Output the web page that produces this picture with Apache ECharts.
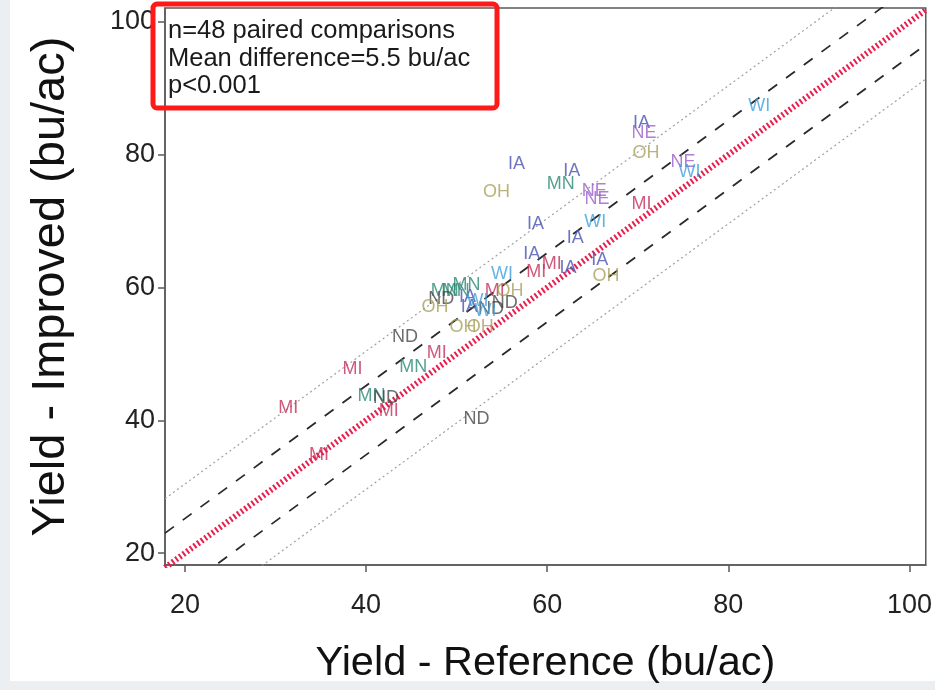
<!DOCTYPE html>
<html>
<head>
<meta charset="utf-8">
<script src="https://cdn.jsdelivr.net/npm/echarts@6/dist/echarts.min.js"></script>
<style>
  html, body { margin: 0; padding: 0; background: #eceff1; }
  #chart { width: 935px; height: 690px; }
</style>
</head>
<body>
<div id="chart"></div>
<script>
// Paired on-farm comparisons: state, reference yield and improved yield (bu/ac)
const states = [
  'WI','IA','NE','OH','NE','WI','MI',
  'IA','OH','MN','IA','NE','NE','IA','WI','IA','IA','MI','MI','IA','IA','OH',
  'WI','MN','MN','IA','MI','OH','ND','OH','IA','ND','WI','ND','OH','OH',
  'ND','MI','MI','MN','MN','ND','MI','MI','MI','ND','WI','MN'
];
const referenceYield = [
  83.4, 70.4, 70.7, 70.9, 75.0, 75.7, 70.4,
  56.6, 54.4, 61.5, 62.7, 65.2, 65.5, 58.7, 65.3, 63.1, 58.3, 58.8, 60.5, 62.3, 65.8, 66.5,
  55.0, 49.9, 51.1, 51.2, 54.2, 55.9, 48.3, 47.6, 51.4, 55.3, 53.2, 53.8, 50.7, 52.6,
  44.3, 47.8, 38.5, 45.2, 40.6, 42.2, 42.5, 31.4, 34.8, 52.2, 52.3, 48.7
];
const improvedYield = [
  87.4, 84.7, 83.3, 80.2, 78.9, 77.4, 72.5,
  78.6, 74.4, 75.6, 77.6, 74.6, 73.4, 69.6, 69.8, 67.4, 65.0, 62.4, 63.6, 62.9, 64.2, 61.8,
  62.1, 59.4, 60.3, 58.6, 59.4, 59.5, 58.2, 57.1, 57.1, 57.6, 56.4, 56.7, 54.1, 54.1,
  52.5, 50.1, 47.7, 48.0, 43.6, 43.3, 41.4, 41.8, 34.7, 40.2, 57.9, 59.5
];

const stateOrder = ['IA', 'MI', 'MN', 'ND', 'NE', 'OH', 'WI'];
const stateColors = {
  IA: '#4a52b0', MI: '#c22f5a', MN: '#2c8874', ND: '#474747',
  NE: '#9a5fc8', OH: '#a9a05c', WI: '#3ea0dc'
};

// Axis extent and ticks
const xRange = [17.8, 101.8];
const yRange = [18.2, 102.1];
const xTicks = [20, 40, 60, 80, 100];
const yTicks = [20, 40, 60, 80, 100];

// Reference lines: 1:1 line with inner (dashed) and outer (dotted) bands
const innerBand = 5.2;
const outerBand = 10.4;

const annotationLines = [
  'n=48 paired comparisons',
  'Mean difference=5.5 bu/ac',
  'p<0.001'
];

const FONT = 'Liberation Sans, Arial, Helvetica, sans-serif';

function offsetLine(offset) {
  return [[xRange[0], xRange[0] + offset], [xRange[1], xRange[1] + offset]];
}

function lineSeries(offset, style) {
  return {
    type: 'line',
    data: offsetLine(offset),
    symbol: 'none',
    clip: true,
    silent: true,
    animation: false,
    lineStyle: style,
    z: 2
  };
}

// One text-label series per state; the point itself is invisible, only the state name is drawn
const labelSeries = stateOrder.map(st => ({
  type: 'scatter',
  name: st,
  data: states.map((s, i) => s === st ? [referenceYield[i], improvedYield[i]] : null)
              .filter(d => d !== null),
  symbol: 'circle',
  symbolSize: 2,
  itemStyle: { color: 'rgba(0,0,0,0)' },
  animation: false,
  z: 5,
  label: {
    show: true,
    position: 'inside',
    formatter: st,
    color: stateColors[st],
    fontFamily: FONT,
    fontSize: 18
  },
  labelLayout: { hideOverlap: false }
}));

const chart = echarts.init(document.getElementById('chart'), null, { renderer: 'canvas' });

chart.setOption({
  backgroundColor: '#eceff1',
  animation: false,
  grid: {
    left: 165, top: 8, width: 762, height: 558,
    show: true, borderColor: '#5a5a5a', borderWidth: 1.5, backgroundColor: '#ffffff'
  },
  xAxis: {
    type: 'value',
    min: xRange[0], max: xRange[1],
    splitLine: { show: false },
    axisLine: { show: true, lineStyle: { color: '#5a5a5a', width: 1.5 } },
    axisTick: { show: true, length: 7, customValues: xTicks, lineStyle: { color: '#5a5a5a', width: 1.5 } },
    axisLabel: { customValues: xTicks, margin: 27, color: '#222', fontSize: 27, fontFamily: FONT },
    name: 'Yield - Reference (bu/ac)',
    nameLocation: 'middle',
    nameGap: 78,
    nameTextStyle: { color: '#111', fontSize: 41.5, fontFamily: FONT }
  },
  yAxis: {
    type: 'value',
    min: yRange[0], max: yRange[1],
    splitLine: { show: false },
    axisLine: { show: true, lineStyle: { color: '#5a5a5a', width: 1.5 } },
    axisTick: { show: true, length: 7, customValues: yTicks, lineStyle: { color: '#5a5a5a', width: 1.5 } },
    axisLabel: { customValues: yTicks, margin: 10, color: '#222', fontSize: 27, fontFamily: FONT },
    name: 'Yield - Improved (bu/ac)',
    nameLocation: 'middle',
    nameGap: 90,
    nameRotate: 90,
    nameTextStyle: { color: '#111', fontSize: 47, fontFamily: FONT }
  },
  graphic: [
    { type: 'rect', z: -10, silent: true,
      shape: { x: 10, y: 0, width: 925, height: 681 },
      style: { fill: '#ffffff' } },
    { type: 'rect', z: 100, silent: true,
      shape: { x: 153, y: 4, width: 344, height: 104, r: 4 },
      style: { fill: 'none', stroke: '#ff1a1a', lineWidth: 5 } },
    ...annotationLines.map((t, i) => ({
      type: 'text', z: 100, silent: true,
      style: {
        x: 168, y: 31 + i * 27.5, text: t,
        fill: '#1a1a1a', font: '25.5px ' + FONT,
        textVerticalAlign: 'middle'
      }
    }))
  ],
  series: [
    lineSeries(outerBand, { color: '#a0a0a0', width: 1.2, type: [2, 3] }),
    lineSeries(-outerBand, { color: '#a0a0a0', width: 1.2, type: [2, 3] }),
    lineSeries(innerBand, { color: '#2a2a2a', width: 1.8, type: [11, 11] }),
    lineSeries(-innerBand, { color: '#2a2a2a', width: 1.8, type: [11, 11] }),
    lineSeries(0, { color: '#e8204f', width: 6, type: [2, 2.5] }),
    ...labelSeries
  ]
});
</script>
</body>
</html>
